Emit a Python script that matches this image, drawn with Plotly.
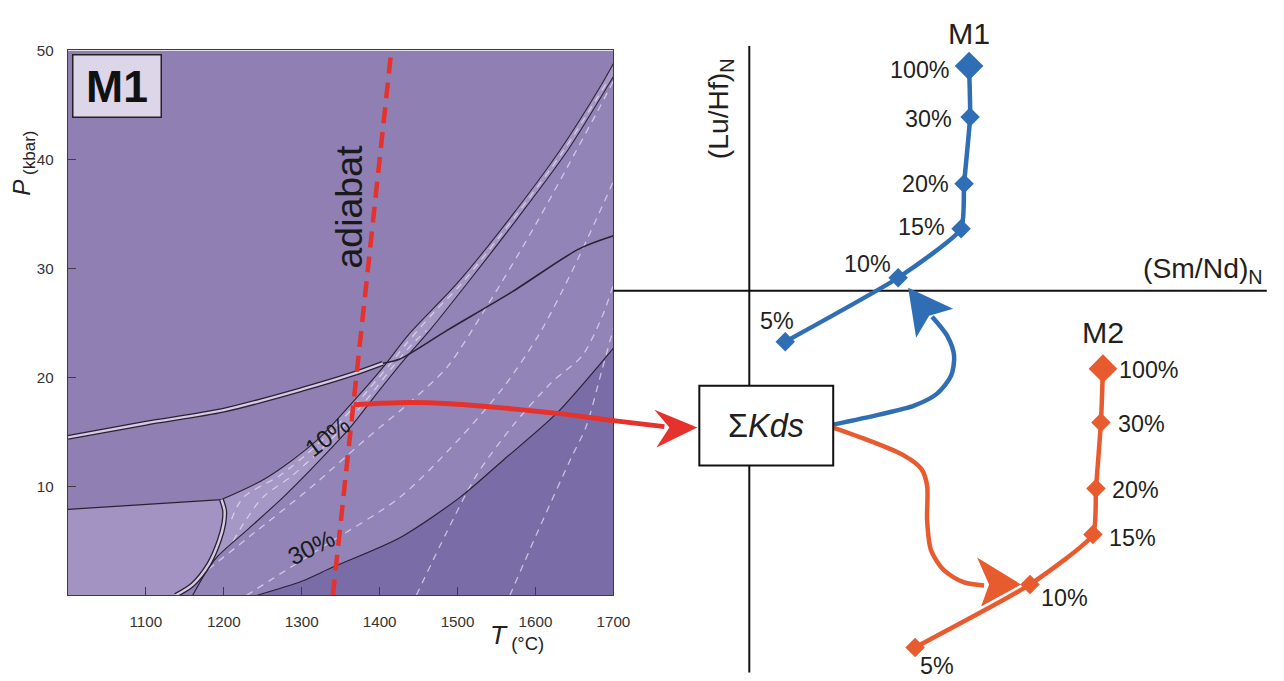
import plotly.graph_objects as go

W, H = 1284, 681
# The captured page comes out scaled by S and lowered by DY pixels, so page
# positions are laid out through this mapping.
S, DY = 0.9877, 8.0
FONT = "Liberation Sans"


def px_x(px):
    return (px / S) / W


def px_y(py):
    return 1 - ((py - DY) / S) / H


def fs(size):
    return round(size / S, 1)


# ---------------- phase diagram: T (°C) vs P (kbar) ----------------
T_TICKS = [1100, 1200, 1300, 1400, 1500, 1600, 1700]
P_TICKS = [10, 20, 30, 40, 50]

ADIABAT_T = [1340, 1415]
ADIABAT_P = [0, 50]

# garnet-in boundary (double line) and the curve continuing across the band
GT_T = [1000, 1100, 1200, 1300, 1365, 1404]
GT_P = [14.5, 15.8, 17.0, 18.9, 20.3, 21.3]
CROSS_T = [1404, 1426, 1486, 1571, 1656, 1700]
CROSS_P = [21.3, 21.7, 24.3, 27.9, 31.8, 33.0]

# limits of the 10 % melting band
BAND_UP_T = [1197, 1255, 1319, 1370, 1404, 1438, 1499, 1567, 1631, 1685, 1700]
BAND_UP_P = [8.8, 10.8, 14.2, 18.1, 20.9, 24.0, 28.6, 34.6, 40.8, 46.9, 48.8]
BAND_LO_T = [1160, 1176, 1191, 1233, 1276, 1319, 1362, 1396, 1430, 1464, 1512, 1577, 1641, 1694, 1700]
BAND_LO_P = [0.0, 2.0, 3.5, 6.2, 9.0, 12.1, 15.4, 18.5, 21.5, 24.3, 28.6, 34.6, 40.8, 46.9, 47.6]

# spinel / plagioclase field boundaries
SP_T = [1197, 1201, 1200, 1194, 1181, 1160, 1138]
SP_P = [8.8, 7.8, 6.6, 5.0, 2.9, 1.0, 0.0]
PL_T = [1000, 1197]
PL_P = [7.9, 8.8]

# 30 % melting limit
F30_T = [1242, 1300, 1340, 1426, 1503, 1560, 1627, 1700]
F30_P = [0.0, 1.3, 2.6, 5.3, 9.0, 12.5, 16.7, 22.7]

# melt-fraction isopleths (dashed)
ISO_BAND1_T = [1210, 1225, 1272, 1307, 1337, 1363, 1387, 1411, 1433, 1470, 1505, 1572, 1636, 1690]
ISO_BAND1_P = [7.0, 9.0, 11.0, 13.0, 15.0, 17.0, 19.0, 21.0, 23.0, 26.0, 28.6, 34.6, 40.8, 46.9]
ISO_BAND2_T = [1212, 1229, 1250, 1288, 1319, 1347, 1372, 1395, 1417, 1441, 1460]
ISO_BAND2_P = [5.0, 7.0, 9.0, 11.0, 13.0, 15.0, 17.0, 19.0, 21.0, 23.0, 24.3]
ISO_A_T = [1180, 1240, 1310, 1380, 1440, 1486, 1540, 1600, 1650, 1678, 1700]
ISO_A_P = [2.4, 5.8, 9.8, 14.2, 17.8, 20.9, 26.8, 34.0, 40.5, 44.2, 47.2]
ISO_B_T = [1229, 1330, 1426, 1500, 1560, 1605, 1650, 1700]
ISO_B_P = [0.0, 4.6, 9.0, 14.2, 19.2, 24.0, 30.2, 38.0]
ISO_C_T = [1447, 1486, 1524, 1570, 1620, 1660, 1685, 1700]
ISO_C_P = [0.0, 5.8, 11.0, 15.5, 19.5, 22.0, 25.5, 28.5]
ISO_D_T = [1567, 1610, 1645, 1665, 1685, 1700]
ISO_D_P = [0.0, 7.0, 12.5, 15.5, 20.6, 24.5]

# ---------------- ratio diagram: (Sm/Nd)N vs (Lu/Hf)N ----------------
MELT_PCT = ["5%", "10%", "15%", "20%", "30%", "100%"]
M1_SMND = [0.36, 1.49, 2.12, 2.15, 2.21, 2.20]
M1_LUHF = [-0.51, 0.13, 0.62, 1.07, 1.74, 2.25]
M2_SMND = [1.66, 2.81, 3.44, 3.47, 3.52, 3.54]
M2_LUHF = [-3.57, -2.94, -2.44, -1.98, -1.32, -0.78]

# colours
C_MAIN = "rgb(143,127,179)"
C_MID = "rgb(147,132,184)"
C_DARK = "rgb(122,108,167)"
C_LIGHT = "rgb(162,147,195)"
C_BAND = "rgb(165,151,198)"
C_LINE = "#2a2233"
C_ISO = "rgba(228,223,242,0.75)"
C_RED = "#e5322d"
C_BLUE = "#2f6db4"
C_ORANGE = "#e85b2f"

fig = go.Figure()


def poly(xs, ys, color, ax="xy"):
    fig.add_trace(go.Scatter(x=xs, y=ys, mode="lines", fill="toself", fillcolor=color,
                             line=dict(width=0), hoverinfo="skip", showlegend=False,
                             xaxis="x" if ax == "xy" else "x2", yaxis="y" if ax == "xy" else "y2"))


def curve(xs, ys, color, width, dash=None, shape="spline", ax="xy"):
    fig.add_trace(go.Scatter(x=xs, y=ys, mode="lines",
                             line=dict(color=color, width=width, dash=dash, shape=shape, smoothing=0.8),
                             hoverinfo="skip", showlegend=False,
                             xaxis="x" if ax == "xy" else "x2", yaxis="y" if ax == "xy" else "y2"))


# field fills
poly([1000, 1700, 1700, 1000], [0, 0, 50, 50], C_MAIN)
mid_T = BAND_LO_T + F30_T[::-1]
mid_P = BAND_LO_P + F30_P[::-1]
poly(mid_T, mid_P, C_MID)
poly(F30_T + [1700], F30_P + [0], C_DARK)
poly([1000] + PL_T + SP_T[1:], [0] + PL_P + SP_P[1:], C_LIGHT)
band_T = BAND_UP_T + BAND_LO_T[:1:-1] + SP_T[4:0:-1]
band_P = BAND_UP_P + BAND_LO_P[:1:-1] + SP_P[4:0:-1]
poly(band_T, band_P, C_BAND)

# dashed isopleths
for xs, ys in [(ISO_BAND1_T, ISO_BAND1_P), (ISO_BAND2_T, ISO_BAND2_P), (ISO_A_T, ISO_A_P),
               (ISO_B_T, ISO_B_P), (ISO_C_T, ISO_C_P), (ISO_D_T, ISO_D_P)]:
    curve(xs, ys, C_ISO, 1.3, dash="7px,6px")

# boundaries
curve(BAND_UP_T, BAND_UP_P, C_LINE, 1.1)
curve(BAND_LO_T, BAND_LO_P, C_LINE, 1.1)
curve(F30_T, F30_P, C_LINE, 1.1)
curve(PL_T, PL_P, C_LINE, 1.3, shape="linear")
curve(CROSS_T, CROSS_P, C_LINE, 1.6)
for xs, ys in [(GT_T, GT_P), (SP_T, SP_P)]:
    curve(xs, ys, C_LINE, 5.0)
    curve(xs, ys, "#d3cae3", 2.4)

# adiabat
curve(ADIABAT_T, ADIABAT_P, C_RED, 4.5, dash="16px,9px", shape="linear")

# ---------------- right panel (overlay axes in ratio units, 100 px per unit) ----------------
ax2 = "x2y2"
curve([0, 0], [2.45, -3.82], "#111111", 2, shape="linear", ax=ax2)
curve([-1.36, 5.18], [0, 0], "#111111", 2, shape="linear", ax=ax2)

# arrows from the source region to each melting path
RED_U = [-3.96, -3.50, -3.00, -2.50, -1.90, -1.36, -0.85]
RED_V = [-1.14, -1.12, -1.13, -1.17, -1.23, -1.30, -1.36]
RED_HEAD_U = [-0.52, -0.95, -0.80, -0.93]
RED_HEAD_V = [-1.37, -1.19, -1.37, -1.57]
BLUE_U = [0.84, 1.30, 1.65, 1.88, 2.02, 2.05, 1.98, 1.83]
BLUE_V = [-1.34, -1.24, -1.15, -1.03, -0.85, -0.65, -0.45, -0.26]
BLUE_HEAD_U = [1.59, 2.04, 1.80, 1.67]
BLUE_HEAD_V = [0.03, -0.18, -0.25, -0.47]
ORANGE_U = [0.84, 1.20, 1.55, 1.72, 1.78, 1.78, 1.82, 1.95, 2.15, 2.35]
ORANGE_V = [-1.37, -1.50, -1.65, -1.78, -1.95, -2.30, -2.60, -2.80, -2.92, -2.95]
ORANGE_HEAD_U = [2.72, 2.28, 2.40, 2.32]
ORANGE_HEAD_V = [-2.94, -2.67, -2.94, -3.16]

curve(RED_U, RED_V, C_RED, 5, ax=ax2)
poly(RED_HEAD_U, RED_HEAD_V, C_RED, ax=ax2)
curve(BLUE_U, BLUE_V, C_BLUE, 4.5, ax=ax2)
poly(BLUE_HEAD_U, BLUE_HEAD_V, C_BLUE, ax=ax2)
curve(ORANGE_U, ORANGE_V, C_ORANGE, 4.5, ax=ax2)
poly(ORANGE_HEAD_U, ORANGE_HEAD_V, C_ORANGE, ax=ax2)

marker_sizes = [15, 15, 15, 15, 15, 22]
for xs, ys, col in [(M1_SMND, M1_LUHF, C_BLUE), (M2_SMND, M2_LUHF, C_ORANGE)]:
    fig.add_trace(go.Scatter(x=xs, y=ys, mode="lines+markers", xaxis="x2", yaxis="y2",
                             line=dict(color=col, width=4.5, shape="spline", smoothing=0.5),
                             marker=dict(symbol="diamond", size=marker_sizes, color=col,
                                         opacity=1, line=dict(width=0)),
                             hoverinfo="skip", showlegend=False))

ann = []
lab_font = dict(family=FONT, size=fs(23), color="#231f20")
M1_OFFS = [(-8, 21, "center"), (-31, 14, "center"), (-14, 2, "right"),
           (-13, 0, "right"), (-16, -2, "right"), (-17, -4, "right")]
M2_OFFS = [(22, -19, "center"), (34, -14, "center"), (14, -3, "left"),
           (14, -1, "left"), (15, -1, "left"), (14, -1, "left")]
for xs, ys, offs in [(M1_SMND, M1_LUHF, M1_OFFS), (M2_SMND, M2_LUHF, M2_OFFS)]:
    for x, y, t, (dx, dy, anc) in zip(xs, ys, MELT_PCT, offs):
        ann.append(dict(x=x, y=y, xref="x2", yref="y2", text=t, showarrow=False, font=lab_font,
                        xanchor=anc, yanchor="middle", xshift=dx, yshift=dy))
ann.append(dict(x=M1_SMND[-1], y=M1_LUHF[-1], xref="x2", yref="y2", text="M1", showarrow=False,
                font=dict(family=FONT, size=fs(30), color="#231f20"), xanchor="center", yanchor="middle",
                yshift=33))
ann.append(dict(x=M2_SMND[-1], y=M2_LUHF[-1], xref="x2", yref="y2", text="M2", showarrow=False,
                font=dict(family=FONT, size=fs(30), color="#231f20"), xanchor="center", yanchor="middle",
                yshift=37))
ann.append(dict(x=5.16, y=0.21, xref="x2", yref="y2", text="(Sm/Nd)<sub>N</sub>", showarrow=False,
                font=dict(family=FONT, size=fs(28), color="#231f20"), xanchor="right", yanchor="middle"))
ann.append(dict(x=-0.29, y=1.82, xref="x2", yref="y2", text="(Lu/Hf)<sub>N</sub>", showarrow=False,
                textangle=-90, font=dict(family=FONT, size=fs(28), color="#231f20"),
                xanchor="center", yanchor="middle"))
ann.append(dict(x=0.17, y=-1.35, xref="x2", yref="y2", text="Σ<i>Kds</i>", showarrow=False,
                font=dict(family=FONT, size=fs(32), color="#231f20"), xanchor="center", yanchor="middle"))

# left panel texts
ann.append(dict(x=1361, y=35.7, xref="x", yref="y", text="adiabat", showarrow=False, textangle=-90,
                font=dict(family=FONT, size=fs(37), color="#1a1a1a"), xanchor="center", yanchor="middle"))
ann.append(dict(x=1333, y=14.6, xref="x", yref="y", text="10%", showarrow=False, textangle=-37,
                font=dict(family=FONT, size=fs(24), color="#1a1a1a"), xanchor="center", yanchor="middle"))
ann.append(dict(x=1312, y=4.4, xref="x", yref="y", text="30%", showarrow=False, textangle=-26,
                font=dict(family=FONT, size=fs(24), color="#1a1a1a"), xanchor="center", yanchor="middle"))
ann.append(dict(x=0.0907, y=0.935, xref="x domain", yref="y domain", text="<b>M1</b>", showarrow=False,
                font=dict(family=FONT, size=fs(44), color="#111111"), bgcolor="#ddd6e8",
                bordercolor="#222222", borderwidth=1.5, borderpad=1, width=85, height=59,
                xanchor="center", yanchor="middle"))
ann.append(dict(x=px_x(24), y=px_y(162), xref="paper", yref="paper", text="<i>P</i><sub> (kbar)</sub>",
                showarrow=False, textangle=-90, font=dict(family=FONT, size=fs(24), color="#222222"),
                xanchor="center", yanchor="middle"))
ann.append(dict(x=px_x(517), y=px_y(637), xref="paper", yref="paper", text="<i>T</i><sub> (°C)</sub>",
                showarrow=False, font=dict(family=FONT, size=fs(26), color="#222222"),
                xanchor="center", yanchor="middle"))

shapes = [dict(type="rect", xref="x2", yref="y2", x0=-0.50, x1=0.84, y0=-0.95, y1=-1.75,
               line=dict(color="#111111", width=2), fillcolor="white", layer="above")]

axis_common = dict(showgrid=False, zeroline=False, showline=True, linecolor="#3d3d3d", linewidth=1.4,
                   mirror=True, ticks="inside", tickcolor="#3d3d3d", tickwidth=1, ticklen=8,
                   tickfont=dict(family=FONT, size=fs(15), color="#333333"), fixedrange=True)

fig.update_layout(
    width=W, height=H, autosize=False,
    margin=dict(l=0, r=0, t=0, b=0),
    paper_bgcolor="white", plot_bgcolor="rgba(0,0,0,0)",
    xaxis=dict(domain=[px_x(68), px_x(614)], range=[1000, 1700], tickvals=T_TICKS,
               ticklabelstandoff=12, anchor="y", **axis_common),
    yaxis=dict(domain=[px_y(595), px_y(49.5)], range=[0, 50], tickvals=P_TICKS,
               ticklabelstandoff=10, anchor="x", **axis_common),
    xaxis2=dict(domain=[0, 1], range=[-750 / 100, (S * W - 750) / 100],
                visible=False, anchor="y2", fixedrange=True),
    yaxis2=dict(domain=[0, 1], range=[(290 - (S * H + DY)) / 100, (290 - DY) / 100],
                visible=False, anchor="x2", fixedrange=True),
    annotations=ann, shapes=shapes, showlegend=False,
)

fig.write_html("out.html", config={"displayModeBar": False})
